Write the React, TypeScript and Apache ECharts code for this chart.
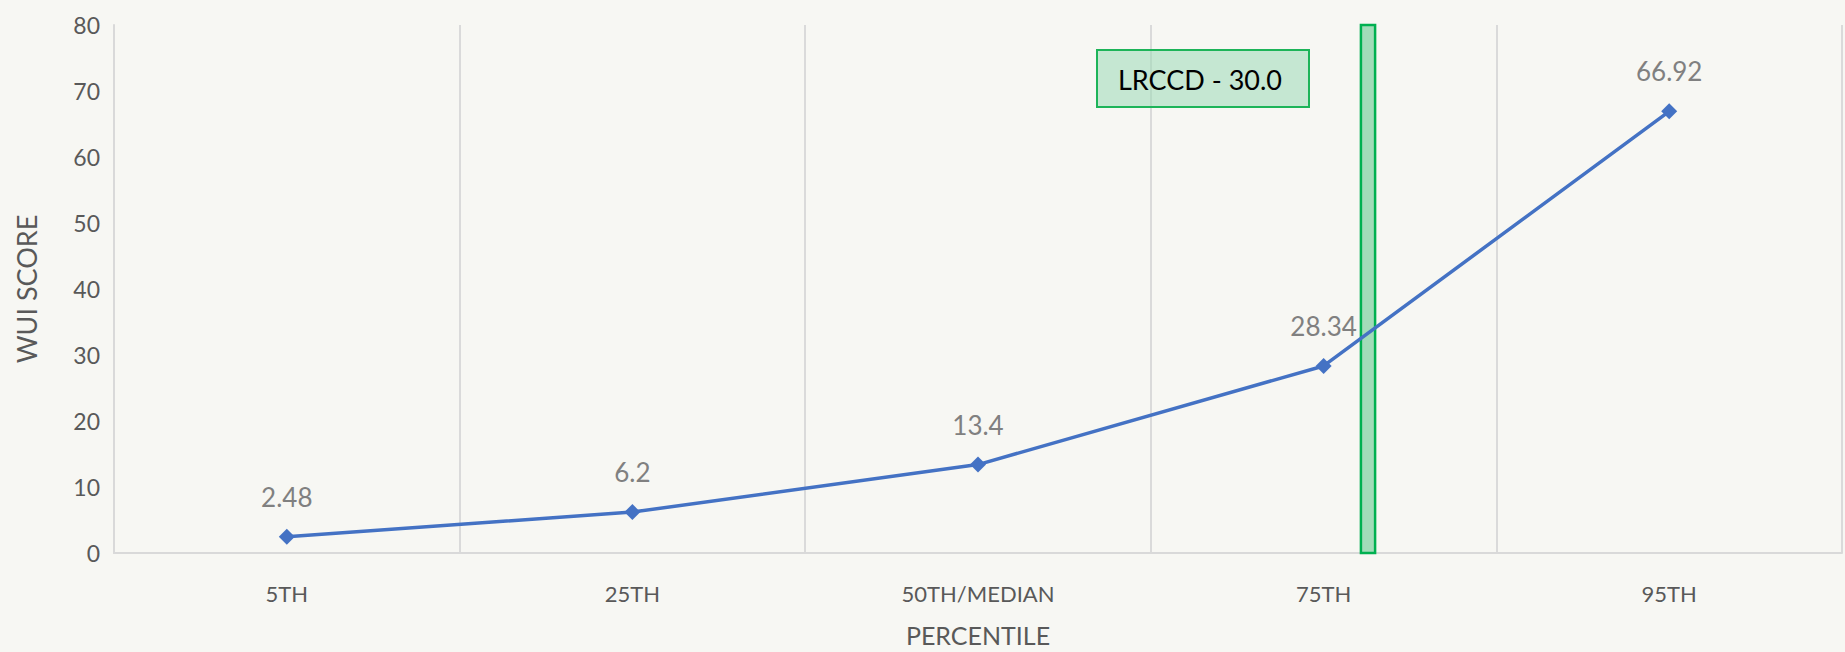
import React, { useEffect, useRef } from "react";
import * as echarts from "echarts";

const categories = ["5TH", "25TH", "50TH/MEDIAN", "75TH", "95TH"];
const wuiScores = [2.48, 6.2, 13.4, 28.34, 66.92];
const thresholdLabel = "LRCCD - 30.0";
// threshold band drawn on a hidden value axis spanning the 5 categories (0..5)
const thresholdBand = [[3.608, 3.649, 0, 80]];

const FONT = "Lato, 'Noto Sans', sans-serif";

export default function App() {
  const ref = useRef<HTMLDivElement>(null);
  useEffect(() => {
    if (!ref.current) return;
    const chart = echarts.init(ref.current, null, { renderer: "svg" });
    chart.setOption({
      animation: false,
      backgroundColor: "#f7f7f3",
      textStyle: { fontFamily: FONT },
      grid: { left: 114, right: 3, top: 25, bottom: 96 },
      xAxis: [
        {
          type: "category",
          data: categories,
          boundaryGap: true,
          axisLine: { show: true, lineStyle: { color: "#d9d9d9", width: 2 } },
          axisTick: { show: false },
          splitLine: { show: true, lineStyle: { color: "#dadada", width: 2 } },
          axisLabel: { color: "#595959", fontSize: 22, margin: 29, fontFamily: FONT },
          name: "PERCENTILE",
          nameLocation: "middle",
          nameGap: 69,
          nameTextStyle: { color: "#595959", fontSize: 25, fontFamily: FONT },
        },
        {
          type: "value",
          min: 0,
          max: 5,
          show: false,
          position: "bottom",
        },
      ],
      yAxis: {
        type: "value",
        min: 0,
        max: 80,
        interval: 10,
        axisLine: { show: true, lineStyle: { color: "#d9d9d9", width: 2 } },
        axisTick: { show: false },
        splitLine: { show: false },
        axisLabel: { color: "#595959", fontSize: 23, margin: 14, fontFamily: FONT },
        name: "WUI SCORE",
        nameLocation: "middle",
        nameGap: 74,
        nameTextStyle: { color: "#595959", fontSize: 27, fontFamily: FONT },
      },
      series: [
        {
          type: "custom",
          xAxisIndex: 1,
          yAxisIndex: 0,
          data: thresholdBand,
          z: 1,
          renderItem: (params: any, api: any) => {
            const p0 = api.coord([api.value(0), api.value(3)]);
            const p1 = api.coord([api.value(1), api.value(2)]);
            return {
              type: "rect",
              shape: { x: p0[0], y: p0[1], width: p1[0] - p0[0], height: p1[1] - p0[1] },
              style: { fill: "#a2dcb9", stroke: "#00b050", lineWidth: 2.5 },
            };
          },
        },
        {
          type: "line",
          data: wuiScores,
          z: 3,
          symbol: "diamond",
          symbolSize: 16,
          lineStyle: { color: "#4472c4", width: 3.5 },
          itemStyle: { color: "#4472c4" },
          label: {
            show: true,
            position: "top",
            distance: 19,
            color: "#808080",
            fontSize: 26,
            fontFamily: FONT,
          },
        },
      ],
      graphic: [
        {
          type: "rect",
          left: 1096,
          top: 49,
          shape: { width: 212, height: 57 },
          style: { fill: "rgba(157,219,182,0.55)", stroke: "#1db459", lineWidth: 2 },
          z: 10,
        },
        {
          type: "text",
          left: 1118,
          top: 66,
          style: { text: thresholdLabel, fill: "#000000", fontSize: 27, fontFamily: FONT },
          z: 11,
        },
      ],
    });
    return () => chart.dispose();
  }, []);
  return (
    <div
      ref={ref}
      style={{ position: "fixed", left: 0, top: 0, width: 1845, height: 652 }}
    />
  );
}
